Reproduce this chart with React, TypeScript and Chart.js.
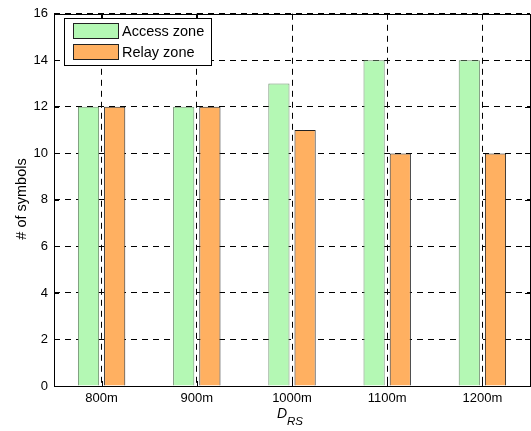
import React, { useEffect, useRef } from "react";
import { Chart, registerables } from "chart.js";

Chart.register(...registerables);

const categories = ["800m", "900m", "1000m", "1100m", "1200m"];
const accessZone = [12, 12, 13, 14, 14];
const relayZone = [12, 12, 11, 10, 10];
const seriesNames = ["Access zone", "Relay zone"];
const yTicks = [0, 2, 4, 6, 8, 10, 12, 14, 16];

const FONT = "'Liberation Sans', Arial, sans-serif";
const GREEN = "#b4f8b4";
const ORANGE = "#ffb061";

const framePlugin = {
  id: "frame",
  afterDraw(chart: any) {
    const { ctx, chartArea: a } = chart;
    const yScale = chart.scales.y;
    const xScale = chart.scales.x;
    ctx.save();
    ctx.strokeStyle = "#000";
    ctx.lineWidth = 1;
    ctx.setLineDash([]);
    ctx.strokeRect(Math.round(a.left) + 0.5, Math.round(a.top) + 0.5, Math.round(a.right - a.left), Math.round(a.bottom - a.top));
    // inward ticks
    ctx.beginPath();
    yTicks.forEach((v) => {
      const y = Math.round(yScale.getPixelForValue(v)) + 0.5;
      ctx.moveTo(a.left, y);
      ctx.lineTo(a.left + 5, y);
      ctx.moveTo(a.right, y);
      ctx.lineTo(a.right - 5, y);
    });
    categories.forEach((_, i) => {
      const x = Math.round(xScale.getPixelForValue(i)) + 0.5;
      ctx.moveTo(x, a.bottom);
      ctx.lineTo(x, a.bottom - 5);
      ctx.moveTo(x, a.top);
      ctx.lineTo(x, a.top + 5);
    });
    ctx.stroke();

    // legend
    const lx = 64.5, ly = 18.5, lw = 147, lh = 47;
    ctx.fillStyle = "#fff";
    ctx.fillRect(lx, ly, lw, lh);
    ctx.strokeRect(lx, ly, lw, lh);
    const ds = chart.data.datasets;
    ds.forEach((d: any, i: number) => {
      const sy = 23.5 + i * 21;
      ctx.fillStyle = d.backgroundColor;
      ctx.fillRect(73.5, sy, 45, 15);
      ctx.strokeStyle = "#222";
      ctx.strokeRect(73.5, sy, 45, 15);
      ctx.fillStyle = "#000";
      ctx.font = `14.5px ${FONT}`;
      ctx.textBaseline = "middle";
      ctx.textAlign = "left";
      ctx.fillText(d.label, 122, sy + 8);
    });

    // y title
    ctx.save();
    ctx.translate(22, 199);
    ctx.rotate(-Math.PI / 2);
    ctx.font = `14.5px ${FONT}`;
    ctx.textAlign = "center";
    ctx.textBaseline = "middle";
    ctx.fillStyle = "#000";
    ctx.fillText("# of symbols", 0, 0);
    ctx.restore();

    // x title D_RS
    ctx.font = `italic 14px ${FONT}`;
    ctx.textAlign = "left";
    ctx.textBaseline = "alphabetic";
    ctx.fillStyle = "#000";
    ctx.fillText("D", 277, 418);
    ctx.font = `italic 11.5px ${FONT}`;
    ctx.fillText("RS", 287, 425);
    ctx.restore();
  },
};

export default function App() {
  const ref = useRef<HTMLCanvasElement>(null);
  useEffect(() => {
    const chart = new Chart(ref.current!, {
      type: "bar",
      data: {
        labels: categories,
        datasets: [
          {
            label: seriesNames[0],
            data: accessZone,
            backgroundColor: GREEN,
            borderColor: "#6f8f6f",
            borderWidth: 1,
            barPercentage: 0.81,
            categoryPercentage: 0.55,
          },
          {
            label: seriesNames[1],
            data: relayZone,
            backgroundColor: ORANGE,
            borderColor: "#222",
            borderWidth: 1,
            barPercentage: 0.81,
            categoryPercentage: 0.55,
          },
        ],
      },
      options: {
        animation: false,
        responsive: false,
        layout: { padding: { top: 11, right: 1, left: 0, bottom: 0 } },
        plugins: { legend: { display: false }, tooltip: { enabled: false } },
        scales: {
          x: {
            afterFit: (s: any) => { s.height = 45; },
            grid: { offset: false, color: "#000", lineWidth: 1, drawTicks: false },
            border: { display: false, dash: [6, 5] },
            ticks: { color: "#000", font: { family: FONT, size: 13 }, padding: 5 },
          },
          y: {
            min: 0,
            max: 16,
            afterFit: (s: any) => { s.width = 54; },
            afterBuildTicks: (s: any) => { s.ticks = yTicks.map((v) => ({ value: v })); },
            grid: { color: "#000", lineWidth: 1, drawTicks: false },
            border: { display: false, dash: [6, 5] },
            ticks: { color: "#000", font: { family: FONT, size: 13 }, padding: 6 },
          },
        },
      },
      plugins: [framePlugin],
    });
    return () => chart.destroy();
  }, []);
  return (
    <div style={{ position: "fixed", left: 0, top: 0, width: 531, height: 431, background: "#fff" }}>
      <canvas ref={ref} width={531} height={431} style={{ width: 531, height: 431 }} />
    </div>
  );
}
